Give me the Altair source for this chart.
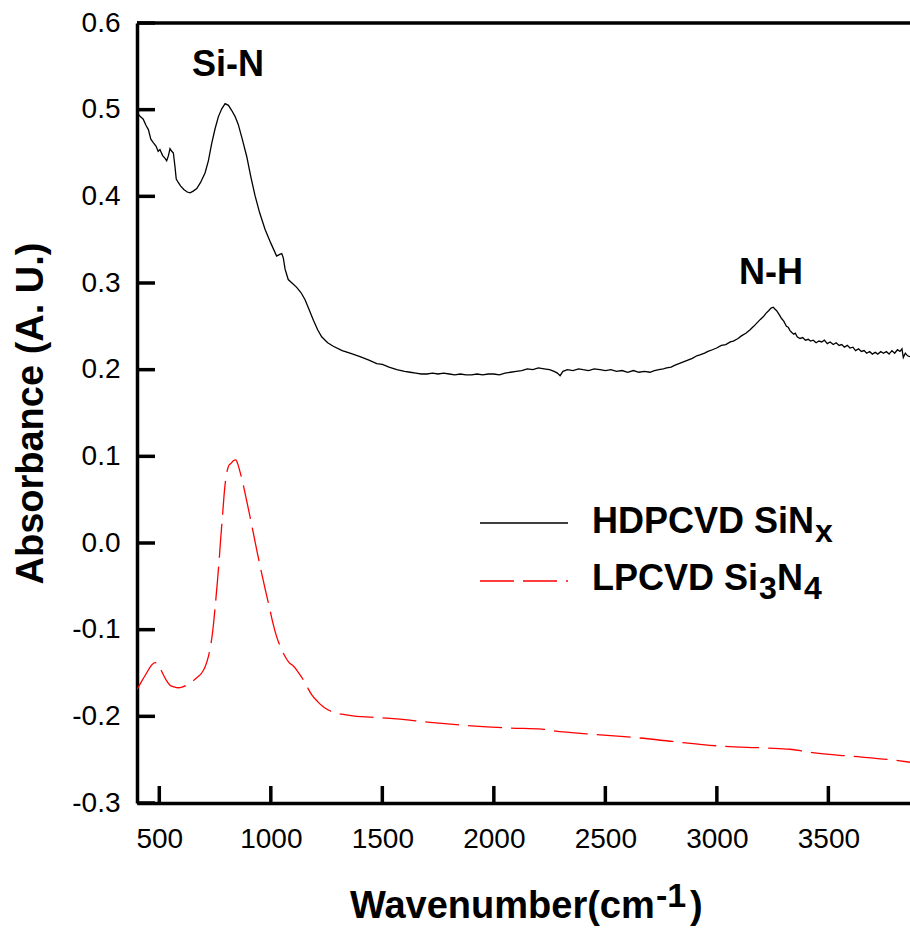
import altair as alt
import pandas as pd

# ---------------- data ----------------
hdp_x = [405, 415, 428, 440, 451, 462, 473, 485, 495, 503, 515, 525, 533, 541, 548, 556, 563, 570, 576,
         585, 595, 610, 625, 638, 652, 668, 685, 705, 720, 735, 750, 765, 780, 795, 810, 825, 840, 854,
         872, 892, 910, 929, 950, 974, 1000, 1026, 1040, 1049, 1056, 1064, 1078, 1095, 1116, 1135, 1153,
         1172, 1191, 1210, 1228, 1255, 1280, 1320, 1355, 1400, 1440, 1475, 1500, 1530, 1565, 1600, 1625,
         1650, 1675, 1700, 1725, 1750, 1775, 1800, 1825, 1850, 1875, 1900, 1925, 1950, 1975, 2000, 2025,
         2050, 2075, 2100, 2125, 2150, 2175, 2200, 2225, 2250, 2270, 2285, 2297, 2310, 2330, 2355, 2380,
         2400, 2425, 2450, 2476, 2500, 2525, 2550, 2575, 2600, 2626, 2650, 2675, 2700, 2720, 2740, 2760,
         2775, 2795, 2810, 2830, 2850, 2870, 2890, 2910, 2924, 2945, 2960, 2980, 2999, 3020, 3040, 3060,
         3074, 3095, 3110, 3130, 3149, 3165, 3180, 3195, 3208, 3220, 3232, 3243, 3253, 3260, 3268, 3276,
         3283, 3290, 3300, 3312, 3320, 3328, 3336, 3345, 3352, 3360, 3373, 3385, 3397, 3410, 3420, 3432,
         3445, 3458, 3470, 3482, 3495, 3508, 3522, 3535, 3548, 3560, 3572, 3585, 3597, 3610, 3622, 3635,
         3648, 3660, 3672, 3685, 3697, 3710, 3722, 3735, 3747, 3760, 3772, 3785, 3797, 3810, 3821, 3830,
         3836, 3845, 3855, 3866]
hdp_y = [0.495, 0.492, 0.489, 0.482, 0.477, 0.466, 0.462, 0.458, 0.452, 0.454, 0.447, 0.444, 0.441, 0.447,
         0.455, 0.452, 0.450, 0.435, 0.420, 0.416, 0.412, 0.408, 0.405, 0.404, 0.406, 0.409, 0.416, 0.427,
         0.441, 0.461, 0.478, 0.492, 0.501, 0.507, 0.505, 0.499, 0.492, 0.483, 0.466, 0.446, 0.423, 0.401,
         0.381, 0.362, 0.346, 0.331, 0.333, 0.334, 0.329, 0.316, 0.304, 0.300, 0.295, 0.289, 0.281, 0.269,
         0.257, 0.246, 0.238, 0.231, 0.227, 0.222, 0.219, 0.215, 0.211, 0.207, 0.206, 0.203, 0.200, 0.198,
         0.197, 0.196, 0.195, 0.195, 0.196, 0.195, 0.196, 0.195, 0.194, 0.195, 0.194, 0.194, 0.195, 0.194,
         0.195, 0.195, 0.194, 0.196, 0.197, 0.198, 0.199, 0.201, 0.200, 0.202, 0.201, 0.200, 0.198, 0.196,
         0.193, 0.198, 0.200, 0.199, 0.201, 0.200, 0.199, 0.201, 0.200, 0.199, 0.200, 0.198, 0.199, 0.197,
         0.199, 0.197, 0.198, 0.197, 0.199, 0.200, 0.201, 0.202, 0.203, 0.205, 0.207, 0.209, 0.211, 0.213,
         0.216, 0.217, 0.219, 0.221, 0.223, 0.225, 0.228, 0.229, 0.232, 0.233, 0.236, 0.239, 0.242, 0.246,
         0.250, 0.254, 0.258, 0.261, 0.265, 0.268, 0.271, 0.272, 0.270, 0.268, 0.265, 0.262, 0.259, 0.256,
         0.250, 0.249, 0.245, 0.243, 0.241, 0.242, 0.238, 0.236, 0.237, 0.234, 0.235, 0.233, 0.234, 0.231,
         0.233, 0.232, 0.234, 0.230, 0.232, 0.229, 0.231, 0.228, 0.229, 0.226, 0.228, 0.225, 0.226, 0.222,
         0.224, 0.221, 0.222, 0.219, 0.221, 0.218, 0.220, 0.218, 0.221, 0.219, 0.221, 0.218, 0.222, 0.219,
         0.223, 0.221, 0.224, 0.214, 0.219, 0.216, 0.215]

lp_x = [400, 420, 443, 462, 481, 496, 507, 518, 533, 548, 566, 585, 605, 623, 640, 652, 670, 690, 705,
        720, 732, 742, 751, 760, 768, 775, 783, 790, 797, 805, 813, 822, 832, 843, 852, 862, 873, 884,
        903, 922, 940, 959, 978, 996, 1010, 1026, 1045, 1064, 1082, 1101, 1120, 1146, 1165, 1183, 1210,
        1235, 1260, 1288, 1330, 1385, 1450, 1564, 1714, 1900, 2072, 2215, 2267, 2461, 2655, 2800, 2999,
        3223, 3328, 3395, 3448, 3600, 3776, 3866]
lp_y = [-0.169, -0.160, -0.150, -0.142, -0.138, -0.140, -0.146, -0.152, -0.159, -0.164, -0.166, -0.167,
        -0.166, -0.164, -0.161, -0.159, -0.155, -0.150, -0.143, -0.131, -0.116, -0.096, -0.072, -0.046,
        -0.021, 0.004, 0.030, 0.054, 0.072, 0.084, 0.090, 0.092, 0.095, 0.096, 0.091, 0.082, 0.071, 0.058,
        0.035, 0.011, -0.012, -0.035, -0.057, -0.077, -0.093, -0.108, -0.121, -0.131, -0.138, -0.142,
        -0.148, -0.158, -0.167, -0.175, -0.183, -0.189, -0.193, -0.196, -0.198, -0.200, -0.201, -0.203,
        -0.207, -0.211, -0.2135, -0.2147, -0.2166, -0.221, -0.225, -0.229, -0.234, -0.2366, -0.238,
        -0.2405, -0.2425, -0.246, -0.250, -0.253]

x_ticks = [500, 1000, 1500, 2000, 2500, 3000, 3500]
y_ticks = [-0.3, -0.2, -0.1, 0.0, 0.1, 0.2, 0.3, 0.4, 0.5, 0.6]

series_names = ["HDPCVD SiN", "LPCVD Si"]
series_subs = [["x"], ["3", "4"]]

# ---------------- layout constants ----------------
W, H = 773, 780
FONT = "Liberation Sans"

hdp = pd.DataFrame({"wn": hdp_x, "abs": hdp_y})
lp = pd.DataFrame({"wn": lp_x, "abs": lp_y})
xt = pd.DataFrame({"wn": x_ticks})
yt = pd.DataFrame({"abs": y_ticks})
one = pd.DataFrame({"a": [0]})

xscale = alt.Scale(domain=[400, 3866], zero=False, nice=False)
yscale = alt.Scale(domain=[-0.3, 0.6], zero=False, nice=False)

x_axis = alt.Axis(values=x_ticks, format="d", title=None, ticks=False, tickSize=0, grid=False,
                  labelFontSize=28, labelFont=FONT, labelColor="black", labelPadding=22,
                  domainColor="black", domainWidth=3.5, labelFlush=False)
y_axis = alt.Axis(values=y_ticks, format=".1f", labelExpr="replace(datum.label, '−', '-')",
                  title="Absorbance (A. U.)", titleFontSize=38, titleFont=FONT, titleFontWeight="bold",
                  titleColor="black", titleAngle=270, titleX=-95, titleY=390, titleAlign="center",
                  titleBaseline="alphabetic", ticks=False, tickSize=0, grid=False,
                  labelFontSize=28, labelFont=FONT, labelColor="black", labelPadding=17,
                  domainColor="black", domainWidth=3.5, labelFlush=False)

X = alt.X("wn:Q", scale=xscale, axis=x_axis)
Y = alt.Y("abs:Q", scale=yscale, axis=y_axis)

black_line = alt.Chart(hdp).mark_line(color="black", strokeWidth=1.3, clip=True).encode(
    x=X, y=Y, order="wn:Q")
red_line = alt.Chart(lp).mark_line(color="red", strokeWidth=1.3, strokeDash=[34, 9], clip=True,
                                   interpolate="monotone").encode(x=X, y=Y, order="wn:Q")

# inward ticks
yticks = alt.Chart(yt).mark_rule(color="black", strokeWidth=3.5).encode(
    y=Y, x=alt.value(0), x2=alt.value(18))
xticks = alt.Chart(xt).mark_rule(color="black", strokeWidth=3.5).encode(
    x=X, y=alt.value(H), y2=alt.value(H - 17))
top_frame = alt.Chart(one).mark_rule(color="black", strokeWidth=3.5).encode(
    x=alt.value(0), x2=alt.value(W), y=alt.value(0))


def txt(s, x, y, size=36, weight="bold", align="left"):
    return alt.Chart(one).mark_text(text=s, font=FONT, fontSize=size, fontWeight=weight,
                                    align=align, baseline="alphabetic", color="black").encode(
        x=alt.value(x), y=alt.value(y))


# peak annotations
ann = [txt("Si-N", 91, 53, align="center"), txt("N-H", 634, 261, align="center")]

# legend
leg_black = alt.Chart(one).mark_rule(color="black", strokeWidth=1.3).encode(
    x=alt.value(343), x2=alt.value(431), y=alt.value(500))
leg_red = alt.Chart(one).mark_rule(color="red", strokeWidth=1.3, strokeDash=[34, 9]).encode(
    x=alt.value(343), x2=alt.value(431), y=alt.value(558))
leg_txt = [
    txt(series_names[0], 455, 510),
    txt(series_subs[0][0], 678, 519, size=32),
    txt(series_names[1], 455, 567),
    txt(series_subs[1][0], 622, 576, size=32),
    txt("N", 640, 567),
    txt(series_subs[1][1], 667, 576, size=32),
]

# x axis title with superscript
xtitle = [
    txt("Wavenumber(cm", 213, 895, size=38),
    txt("-1", 519, 884, size=34),
    txt(")", 553, 895, size=38),
]

chart = alt.layer(black_line, red_line, yticks, xticks, top_frame, leg_black, leg_red,
                  *ann, *leg_txt, *xtitle).properties(
    width=W, height=H,
    autosize=alt.AutoSizeParams(type="none"),
    padding={"left": 137, "top": 23, "right": 0, "bottom": 132},
    background="white",
).configure_view(stroke=None)

chart.save("out.html", embed_options={"renderer": "svg", "actions": False})
